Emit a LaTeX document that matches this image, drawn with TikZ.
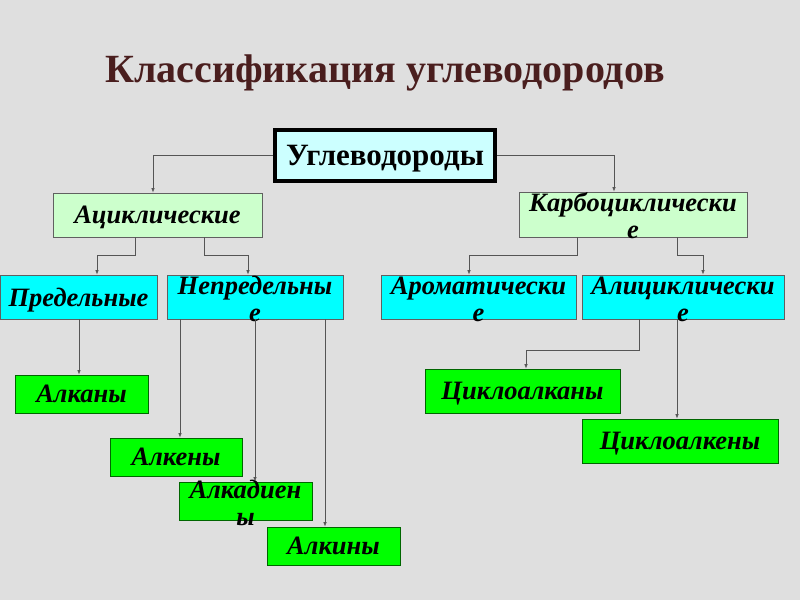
\documentclass[tikz,border=0pt]{standalone}
\usepackage{fontspec}
\setmainfont{Liberation Serif}
\usetikzlibrary{arrows.meta}
\definecolor{bg}{HTML}{DFDFDF}
\definecolor{titlec}{HTML}{4A1E1E}
\definecolor{lcyan}{HTML}{CCFFFF}
\definecolor{lgreen}{HTML}{CCFFCC}
\definecolor{cyanbox}{HTML}{00FFFF}
\definecolor{greenbox}{HTML}{00FF00}
\definecolor{edgec}{HTML}{555555}
\tikzset{
  box/.style={draw=gray!75!black, line width=0.8pt, inner sep=0pt, align=center, text depth=0pt,
    font=\fontsize{26.5}{30}\selectfont\bfseries\itshape},
  acbox/.style={box, fill=lgreen, minimum height=44pt},
  cybox/.style={box, fill=cyanbox, minimum height=44pt},
  grbox/.style={box, fill=greenbox, draw=green!40!black},
  conn/.style={draw=edgec, line width=0.7pt, -{Latex[length=4.5pt,width=3.5pt]}},
}
\newcommand{\twol}[2]{\smash{\raisebox{-11pt}{\begin{tabular}{@{}c@{}}#1\\[-3pt]#2\end{tabular}}}}
\begin{document}
\begin{tikzpicture}[x=1pt,y=-1pt]
\fill[bg] (0,0) rectangle (800,600);
\useasboundingbox (0,0) rectangle (800,600);

\node[font=\fontsize{40}{44}\selectfont\bfseries, text=titlec] (title) at (385,73) {Классификация углеводородов};

\node[draw=black, line width=3.5pt, fill=lcyan, minimum width=220pt, minimum height=51pt, text depth=0pt,
  font=\fontsize{31}{34}\selectfont\bfseries] (ugl) at (385,155.5) {Углеводороды};

\node[acbox, minimum width=209pt] (acyc) at (157.5,215) {Ациклические};
\node[acbox, minimum width=228pt, minimum height=45pt] (karb) at (633,214.5) {\twol{Карбоциклически}{е}};

\node[cybox, minimum width=157pt] (pred) at (78.5,297) {Предельные};
\node[cybox, minimum width=176pt] (nepr) at (255,297) {\twol{Непредельны}{е}};
\node[cybox, minimum width=195pt] (arom) at (478.5,297) {\twol{Ароматически}{е}};
\node[cybox, minimum width=202pt] (alic) at (683,297) {\twol{Алициклически}{е}};

\node[grbox, minimum width=133pt, minimum height=38pt] (alkany) at (81.5,394) {Алканы};
\node[grbox, minimum width=132pt, minimum height=38pt] (alkeny) at (176,457) {Алкены};
\node[grbox, minimum width=133pt, minimum height=38pt] (alkad) at (245.5,501) {\twol{Алкадиен}{ы}};
\node[grbox, minimum width=133pt, minimum height=38pt] (alkiny) at (333.5,546) {Алкины};
\node[grbox, minimum width=195pt, minimum height=44pt] (cycan) at (522.5,391) {Циклоалканы};
\node[grbox, minimum width=196pt, minimum height=44pt] (cycen) at (680,441) {Циклоалкены};

\draw[conn] (ugl.west) -| ([xshift=-4.5pt]acyc.north);
\draw[conn] (ugl.east) -| ([xshift=-19pt]karb.north);

\draw[conn] ([xshift=-22.5pt]acyc.south) -- ++(0,18) -| ([xshift=18.5pt]pred.north);
\draw[conn] ([xshift=46.5pt]acyc.south) -- ++(0,18) -| ([xshift=-7pt]nepr.north);
\draw[conn] ([xshift=-56pt]karb.south) -- ++(0,18) -| ([xshift=-9.5pt]arom.north);
\draw[conn] ([xshift=44pt]karb.south) -- ++(0,18) -| ([xshift=20pt]alic.north);

\draw[conn] ([xshift=0.5pt]pred.south) -- ([xshift=-2.5pt]alkany.north);
\draw[conn] ([xshift=-75pt]nepr.south) -- ([xshift=4pt]alkeny.north);
\draw[conn] (nepr.south) -- ([xshift=9.5pt]alkad.north);
\draw[conn] ([xshift=70pt]nepr.south) -- ([xshift=-8.5pt]alkiny.north);

\draw[conn] ([xshift=-44pt]alic.south) -- ++(0,31) -| ([xshift=3.5pt]cycan.north);
\draw[conn] ([xshift=-6pt]alic.south) -- ([xshift=-3pt]cycen.north);
\end{tikzpicture}
\end{document}
